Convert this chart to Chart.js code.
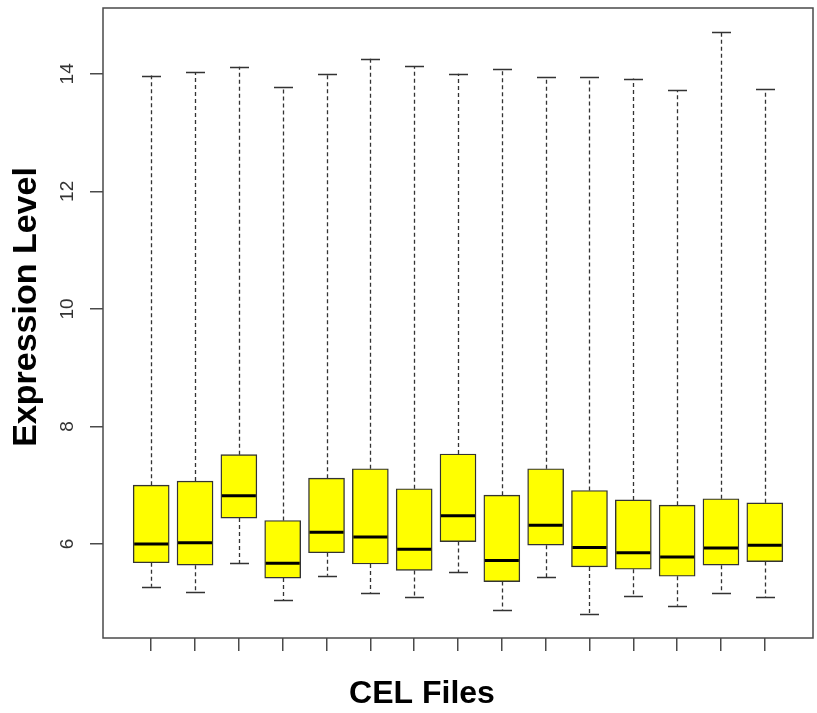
<!DOCTYPE html>
<html>
<head>
<meta charset="utf-8">
<script src="https://cdn.jsdelivr.net/npm/chart.js@4"></script>
<style>
  html, body { margin: 0; padding: 0; background: #fff; }
  #wrap { width: 817px; height: 713px; }
</style>
</head>
<body>
<div id="wrap"><canvas id="graficaCel" width="817" height="713"></canvas></div>
<script>
// una caja por archivo CEL (posiciones 1..15 en el eje x)
const posiciones = [1, 2, 3, 4, 5, 6, 7, 8, 9, 10, 11, 12, 13, 14, 15];
const minimos  = [5.27, 5.18, 5.67, 5.04, 5.46, 5.17, 5.09, 5.52, 4.87, 5.43, 4.81, 5.12, 4.95, 5.17, 5.09];
const cuartil1 = [5.68, 5.64, 6.44, 5.42, 5.85, 5.66, 5.55, 6.04, 5.36, 5.98, 5.61, 5.57, 5.45, 5.64, 5.70];
const medianas = [6.00, 6.02, 6.82, 5.67, 6.20, 6.12, 5.91, 6.48, 5.72, 6.32, 5.94, 5.85, 5.78, 5.93, 5.98];
const cuartil3 = [7.00, 7.07, 7.52, 6.40, 7.12, 7.28, 6.94, 7.53, 6.83, 7.28, 6.91, 6.75, 6.66, 6.77, 6.70];
const maximos  = [13.97, 14.03, 14.12, 13.78, 14.00, 14.26, 14.13, 14.00, 14.09, 13.94, 13.94, 13.92, 13.72, 14.72, 13.74];
const ticksY = [6, 8, 10, 12, 14];

const GRIS = "#4a4a4a";

// bigotes punteados con su tope, debajo de las cajas
const bigotes = {
    id: "bigotes",
    beforeDatasetsDraw(chart) {
        const { ctx, scales: { x, y } } = chart;
        ctx.save();
        ctx.strokeStyle = "#333";
        posiciones.forEach((p, i) => {
            const px = Math.round(x.getPixelForValue(p)) + 0.5;
            ctx.lineWidth = 1.3;
            ctx.setLineDash([4, 3]);
            ctx.beginPath();
            ctx.moveTo(px, y.getPixelForValue(cuartil3[i]));
            ctx.lineTo(px, y.getPixelForValue(maximos[i]));
            ctx.moveTo(px, y.getPixelForValue(cuartil1[i]));
            ctx.lineTo(px, y.getPixelForValue(minimos[i]));
            ctx.stroke();
            ctx.setLineDash([]);
            ctx.lineWidth = 1.5;
            ctx.beginPath();
            [maximos[i], minimos[i]].forEach(v => {
                const py = Math.round(y.getPixelForValue(v)) + 0.5;
                ctx.moveTo(px - 9.5, py);
                ctx.lineTo(px + 9.5, py);
            });
            ctx.stroke();
        });
        ctx.restore();
    },
    afterDatasetsDraw(chart) {
        const { ctx, scales: { y } } = chart;
        const meta = chart.getDatasetMeta(0);
        ctx.save();
        ctx.strokeStyle = "#000";
        ctx.lineWidth = 3;
        meta.data.forEach((bar, i) => {
            const py = y.getPixelForValue(medianas[i]);
            ctx.beginPath();
            ctx.moveTo(bar.x - bar.width / 2 + 1, py);
            ctx.lineTo(bar.x + bar.width / 2 - 1, py);
            ctx.stroke();
        });
        ctx.restore();
    },
    afterDraw(chart) {
        const { ctx, chartArea: a } = chart;
        ctx.save();
        // marco del area de trazado
        ctx.strokeStyle = GRIS;
        ctx.lineWidth = 1.5;
        ctx.strokeRect(a.left, a.top, a.right - a.left, a.bottom - a.top);
        // titulos de los ejes
        ctx.fillStyle = "#000";
        ctx.font = "bold 32px 'Liberation Sans', Arial, sans-serif";
        ctx.textAlign = "center";
        ctx.textBaseline = "middle";
        ctx.fillText("CEL Files", 422, 694);
        ctx.font = "bold 34px 'Liberation Sans', Arial, sans-serif";
        ctx.translate(27, 307);
        ctx.rotate(-Math.PI / 2);
        ctx.fillText("Expression Level", 0, 0);
        ctx.restore();
    }
};

const ctx = document.getElementById("graficaCel").getContext("2d");

new Chart(ctx, {
    type: "bar",
    data: {
        datasets: [{
            label: "Expresion",
            data: posiciones.map((p, i) => ({ x: p, y: [cuartil1[i], cuartil3[i]] })),
            backgroundColor: "#ffff00",
            borderColor: "#333",
            borderWidth: 1.4,
            borderSkipped: false,
            barThickness: 36
        }]
    },
    options: {
        responsive: false,
        animation: false,
        layout: { padding: { top: 8, right: 4, left: 0, bottom: 0 } },
        plugins: {
            legend: { display: false },
            tooltip: { enabled: false }
        },
        scales: {
            x: {
                type: "linear",
                min: -0.1,
                max: 16.1,
                offset: false,
                afterBuildTicks: axis => { axis.ticks = posiciones.map(v => ({ value: v })); },
                afterFit: axis => { axis.height = 75; axis.paddingLeft = 0; axis.paddingRight = 0; },
                border: { display: false },
                grid: { offset: false, drawOnChartArea: false, drawTicks: true, tickLength: 13, color: GRIS, lineWidth: 1.5 },
                ticks: { display: false }
            },
            y: {
                min: 4.4,
                max: 15.12,
                afterBuildTicks: axis => { axis.ticks = ticksY.map(v => ({ value: v })); },
                afterFit: axis => { axis.width = 103; axis.paddingTop = 0; axis.paddingBottom = 0; },
                border: { display: false },
                grid: { drawOnChartArea: false, drawTicks: true, tickLength: 13, color: GRIS, lineWidth: 1.5 },
                ticks: {
                    minRotation: 90,
                    maxRotation: 90,
                    crossAlign: "center",
                    padding: 12,
                    color: "#333",
                    font: { family: "'Liberation Sans', Arial, sans-serif", size: 19 }
                }
            }
        }
    },
    plugins: [bigotes]
});
</script>
</body>
</html>
